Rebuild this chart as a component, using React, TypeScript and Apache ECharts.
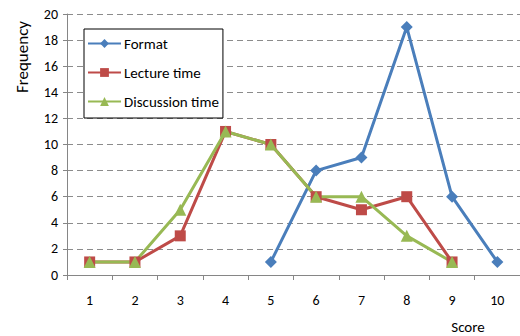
import React, { useEffect, useRef } from "react";
import * as echarts from "echarts";

const categories = ["1", "2", "3", "4", "5", "6", "7", "8", "9", "10"];
const formatData = [null, null, null, null, 1, 8, 9, 19, 6, 1];
const lectureData = [1, 1, 3, 11, 10, 6, 5, 6, 1, null];
const discussionData = [1, 1, 5, 11, 10, 6, 6, 3, 1, null];
const seriesNames = ["Format", "Lecture time", "Discussion time"];
const colors = ["#4A7EBB", "#BE4B48", "#98B954"];

export default function App() {
  const ref = useRef<HTMLDivElement>(null);
  useEffect(() => {
    const chart = echarts.init(ref.current!, null, { renderer: "svg" });
    const font = "Carlito, Calibri, 'Open Sans', sans-serif";
    chart.setOption({
      animation: false,
      textStyle: { fontFamily: font },
      grid: { left: 67, top: 14, width: 455, height: 261 },
      legend: {
        orient: "vertical",
        left: 84,
        top: 29,
        width: 139,
        padding: [7, 4, 9, 3],
        itemGap: 14,
        itemWidth: 33,
        itemHeight: 11,
        borderColor: "#000",
        borderWidth: 1,
        backgroundColor: "#fff",
        textStyle: { fontSize: 15, color: "#000", fontFamily: font, padding: [0, 0, 0, -2] },
        data: seriesNames,
      },
      graphic: [
        {
          type: "text",
          x: 22,
          y: 57,
          rotation: Math.PI / 2,
          style: {
            text: "Frequency",
            fontSize: 17,
            fill: "#000",
            fontFamily: font,
            align: "center",
            verticalAlign: "middle",
          },
        },
        {
          type: "text",
          x: 468,
          y: 327,
          style: {
            text: "Score",
            fontSize: 15,
            fill: "#000",
            fontFamily: font,
            align: "center",
            verticalAlign: "middle",
          },
        },
      ],
      xAxis: {
        type: "category",
        data: categories,
        boundaryGap: true,
        axisLine: { lineStyle: { color: "#868686" } },
        axisTick: { show: true, alignWithLabel: false, length: 5, lineStyle: { color: "#868686" } },
        axisLabel: { color: "#000", fontSize: 14, margin: 18 },
      },
      yAxis: {
        type: "value",
        min: 0,
        max: 20,
        interval: 2,
        axisLine: { show: true, lineStyle: { color: "#868686" } },
        axisTick: { show: true, length: 4, lineStyle: { color: "#868686" } },
        axisLabel: { color: "#000", fontSize: 14, margin: 9 },
        splitLine: { lineStyle: { color: "#8c8c8c", type: [6, 4], width: 1 } },
      },
      series: [
        {
          name: seriesNames[0],
          type: "line",
          data: formatData,
          color: colors[0],
          lineStyle: { width: 3 },
          symbol: "diamond",
          symbolSize: 12,
        },
        {
          name: seriesNames[1],
          type: "line",
          data: lectureData,
          color: colors[1],
          lineStyle: { width: 3 },
          symbol: "rect",
          symbolSize: 11,
        },
        {
          name: seriesNames[2],
          type: "line",
          data: discussionData,
          color: colors[2],
          lineStyle: { width: 3 },
          symbol: "triangle",
          symbolSize: 12,
        },
      ],
    });
    return () => chart.dispose();
  }, []);
  return <div ref={ref} style={{ width: 520, height: 336, position: "absolute", left: 0, top: 0 }} />;
}
